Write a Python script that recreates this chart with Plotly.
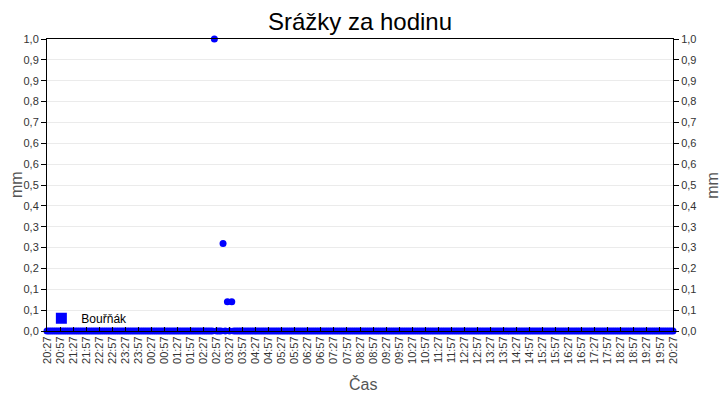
import pandas as pd
import plotly.graph_objects as go

# measurement schedule (every 5 min over one day)
start = "2024-05-20 20:27"
end = "2024-05-21 20:27"
times = pd.date_range(start, end, freq="5min")

# non-zero hourly precipitation readings [mm], all others are 0
rain_times = ["2024-05-21 02:52", "2024-05-21 03:12", "2024-05-21 03:22", "2024-05-21 03:32"]
rain_values = [1.0, 0.3, 0.1, 0.1]

y_ticks = [i / 14 for i in range(15)]
y_labels = ["0,0", "0,1", "0,1", "0,2", "0,3", "0,3", "0,4", "0,5",
            "0,6", "0,6", "0,7", "0,8", "0,9", "0,9", "1,0"]

series = pd.Series(0.0, index=times)
for t, v in zip(rain_times, rain_values):
    series[pd.Timestamp(t)] = v

font = "Liberation Sans"
blue = "#0000FF"
title_font = dict(size=16, color="#555555")

fig = go.Figure()
fig.add_trace(go.Scatter(
    x=series.index, y=series.values, mode="markers",
    marker=dict(color=blue, size=7), cliponaxis=False,
    showlegend=False,
))
# same data on right axis so it gets drawn
fig.add_trace(go.Scatter(
    x=series.index, y=series.values, mode="markers", yaxis="y2",
    marker=dict(color=blue, size=7, opacity=0), showlegend=False,
    hoverinfo="skip",
))
# legend entry with square symbol
fig.add_trace(go.Scatter(
    x=[None], y=[None], mode="markers", name="Bouřňák",
    marker=dict(color=blue, size=11, symbol="square"),
))

yaxis_common = dict(
    range=[0, 1], tickvals=y_ticks, ticktext=y_labels,
    showline=True, linecolor="black", linewidth=1,
    ticks="outside", ticklen=5, tickcolor="black",
    tickfont=dict(size=11, color="#333333"),
    fixedrange=True, zeroline=False, automargin=False,
)

fig.update_layout(
    width=720, height=400,
    margin=dict(l=47, r=47, t=39, b=69),
    plot_bgcolor="white", paper_bgcolor="white",
    font=dict(family=font, color="#333333"),
    title=dict(text="Srážky za hodinu", x=0.5, xanchor="center", y=0.945,
               yanchor="middle", font=dict(size=24, color="black")),
    xaxis=dict(
        range=[pd.Timestamp(start), pd.Timestamp(end)],
        tick0=pd.Timestamp(start), dtick=30 * 60 * 1000,
        tickformat="%H:%M", tickangle=-90,
        tickfont=dict(size=11, color="#333333"),
        ticks="inside", ticklen=4, tickcolor="black",
        showline=True, linecolor="black", mirror=True,
        showgrid=False, zeroline=False, automargin=False,
    ),
    yaxis=dict(**yaxis_common, showgrid=True, gridcolor="#ebebeb"),
    yaxis2=dict(**yaxis_common, overlaying="y", side="right", showgrid=False),
    legend=dict(x=-0.009, y=-0.006, xanchor="left", yanchor="bottom",
                bgcolor="rgba(0,0,0,0)", font=dict(size=12, color="black"),
                itemwidth=30),
)

# axis titles
ann = dict(xref="paper", yref="paper", showarrow=False, font=title_font,
           xanchor="center", yanchor="middle")
fig.add_annotation(text="mm", x=-0.0495, y=0.5, textangle=-90, **ann)
fig.add_annotation(text="mm", x=1.062, y=0.5, textangle=-90, **ann)
fig.add_annotation(text="Čas", x=0.505, y=-0.18, **ann)

# page body has a default margin, drop it so the chart fills the window
fig.write_html("out.html", config={"displayModeBar": False},
               post_script="document.body.style.margin='0';")
